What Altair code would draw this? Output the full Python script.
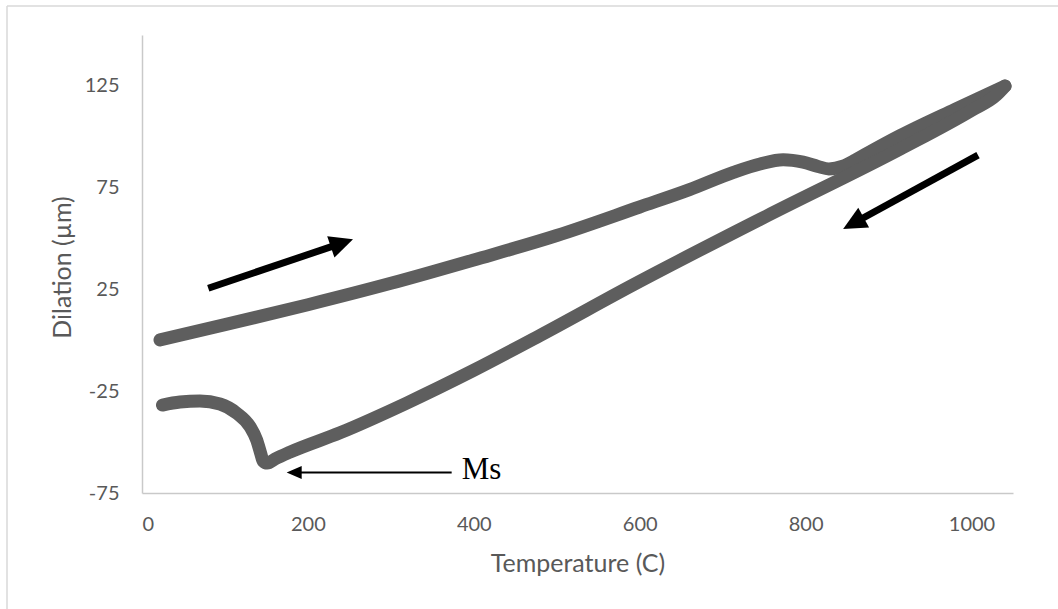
import altair as alt
import pandas as pd

# ---- data ----
heat_T = [21.7, 100, 200, 300, 400, 500, 600, 660, 713, 745, 773, 797, 815, 828, 845, 860, 874, 914, 980, 1040.4]
heat_D = [0.2, 7.7, 17.5, 28.0, 39.5, 51.5, 65.5, 74.0, 82.5, 86.6, 88.7, 87.5, 85.4, 84.2, 85.6, 88.6, 91.8, 100.6, 113.5, 124.9]

cool_T = [1040.4, 1030, 1000, 914.1, 753.1, 592.3, 479.8, 399, 319.1, 238.7, 178.4, 160.3, 151, 146, 143.1, 138.3, 130.2, 114.2, 94, 69.9, 45.8, 24.7]
cool_D = [124.9, 120.5, 113.0, 94.0, 61.1, 27.3, 2.4, -14.9, -30.8, -45.4, -54.9, -58.3, -60.3, -59.3, -55.5, -49, -42.4, -35.8, -31.3, -29.8, -30.3, -31.8]

x_ticks = [0, 200, 400, 600, 800, 1000]
y_ticks = [-75, -25, 25, 75, 125]

# big direction arrows (tail, shaft end, tip, head angle)
arrow_tail_T = [79.9, 1007.8]
arrow_tail_D = [25.6, 91.0]
arrow_shaft_T = [238.3, 859.9]
arrow_shaft_D = [47.4, 58.0]
arrow_tip_T = [254.4, 845.2]
arrow_tip_D = [49.6, 54.7]
arrow_angle = [71.3, 241.3]

# Ms pointer
ms_tail_T = [373.3]
ms_shaft_T = [186.5]
ms_tip_T = [174.4]
ms_D = [-64.9]
ms_label = ["Ms"]
ms_label_T = [385.4]
ms_label_D = [-68.3]

# ---- tables ----
curve = pd.DataFrame({
    "T": heat_T + cool_T,
    "D": heat_D + cool_D,
    "series": ["heating"] * len(heat_T) + ["cooling"] * len(cool_T),
    "i": list(range(len(heat_T))) + list(range(len(cool_T))),
})
arrows = pd.DataFrame({
    "T": arrow_tail_T, "D": arrow_tail_D,
    "T2": arrow_shaft_T, "D2": arrow_shaft_D,
})
heads = pd.DataFrame({"T": arrow_tip_T, "D": arrow_tip_D, "angle": arrow_angle})
ms_line = pd.DataFrame({"T": ms_tail_T, "D": ms_D, "T2": ms_shaft_T, "D2": ms_D})
ms_head = pd.DataFrame({"T": ms_tip_T, "D": ms_D, "angle": [270.0]})
ms_text = pd.DataFrame({"T": ms_label_T, "D": ms_label_D, "label": ms_label})
dummy = pd.DataFrame({"a": [0]})

FONT = "Lato"
LABEL_COLOR = "#595959"

xs = alt.Scale(domain=[0, 1050], nice=False, zero=False)
ys = alt.Scale(domain=[-75, 150], nice=False, zero=False)

x_axis = alt.Axis(
    values=x_ticks, title="Temperature (C)", grid=False, ticks=False, tickSize=0,
    domainColor="#c9c9c9", domainWidth=1.5, labelFont=FONT, labelFontSize=20,
    labelColor=LABEL_COLOR, labelPadding=21, labelExpr="'' + datum.value",
    titleFont=FONT, titleFontSize=25, titleFontWeight="normal", titleColor=LABEL_COLOR,
    titleBaseline="alphabetic", titleY=78,
)
y_axis = alt.Axis(
    values=y_ticks, title="Dilation (µm)", grid=False, ticks=False, tickSize=0,
    domainColor="#c9c9c9", domainWidth=1.5, labelFont=FONT, labelFontSize=20,
    labelColor=LABEL_COLOR, labelPadding=23, labelExpr="'' + datum.value",
    titleFont=FONT, titleFontSize=25, titleFontWeight="normal", titleColor=LABEL_COLOR,
    titleBaseline="alphabetic", titleX=-72, titleY=232, titleAngle=-90,
)

X = alt.X("T:Q", scale=xs, axis=x_axis)
Y = alt.Y("D:Q", scale=ys, axis=y_axis)

lines = alt.Chart(curve).mark_line(
    strokeWidth=13, strokeCap="round", strokeJoin="round", color="#5e5e5e",
    interpolate="monotone",
).encode(x=X, y=Y, detail="series:N", order="i:Q")

shafts = alt.Chart(arrows).mark_rule(strokeWidth=7, color="black", strokeCap="butt").encode(
    x=X, y=Y, x2="T2:Q", y2="D2:Q")

big_heads = alt.Chart(heads).mark_point(
    shape="M0,0L-0.48,1L0.48,1Z", filled=True, color="black", opacity=1, size=2200, strokeWidth=0
).encode(x=X, y=Y, angle=alt.Angle("angle:Q", scale=None))

ms_shaft = alt.Chart(ms_line).mark_rule(strokeWidth=2, color="black").encode(
    x=X, y=Y, x2="T2:Q", y2="D2:Q")

ms_arrowhead = alt.Chart(ms_head).mark_point(
    shape="M0,0L-0.43,1L0.43,1Z", filled=True, color="black", opacity=1, size=900, strokeWidth=0
).encode(x=X, y=Y, angle=alt.Angle("angle:Q", scale=None))

ms_txt = alt.Chart(ms_text).mark_text(
    font="Liberation Serif", fontSize=31, color="black", align="left", baseline="alphabetic"
).encode(x=X, y=Y, text="label:N")

border_left = alt.Chart(dummy).mark_rule(color="#d9d9d9", strokeWidth=1.5).encode(
    x=alt.value(-135), y=alt.value(-29), y2=alt.value(580))
border_top = alt.Chart(dummy).mark_rule(color="#d9d9d9", strokeWidth=1.5).encode(
    x=alt.value(-135), x2=alt.value(920), y=alt.value(-29))

chart = alt.layer(
    border_left, border_top, lines, shafts, big_heads, ms_shaft, ms_arrowhead, ms_txt
).properties(
    width=871, height=458,
    autosize=alt.AutoSizeParams(type="none"),
    padding={"left": 142, "top": 35, "right": 45, "bottom": 116},
    background="white",
).configure_view(stroke=None)

chart.save("out.html", embed_options={"renderer": "svg", "actions": False})
